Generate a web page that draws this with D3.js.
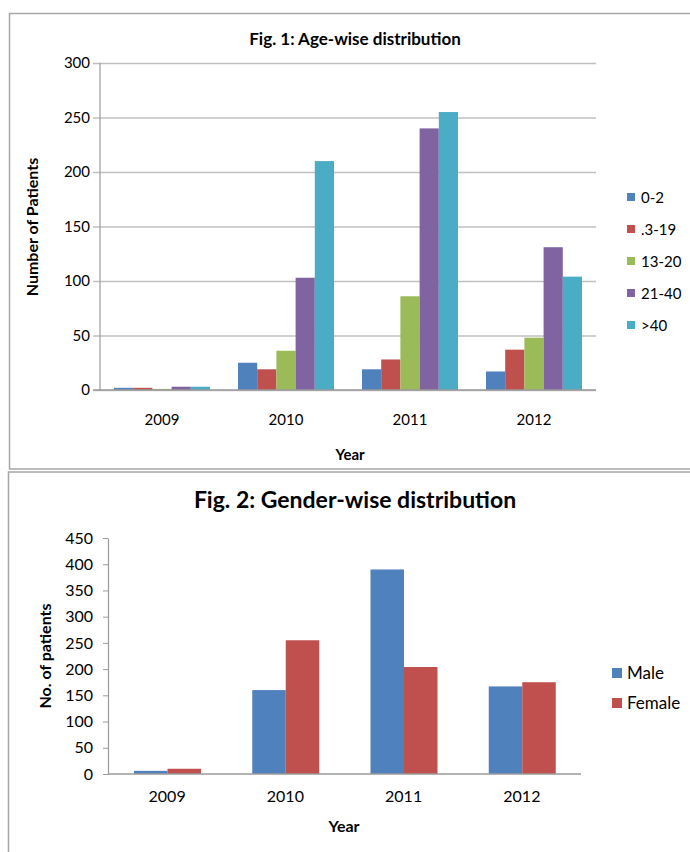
<!DOCTYPE html>
<html>
<head>
<meta charset="utf-8">
<title>Patient distribution</title>
<script src="https://cdn.jsdelivr.net/npm/d3@7"></script>
<style>
  body { margin: 0; background: #fff; }
  svg text { font-family: Lato, "Open Sans", sans-serif; fill: #000; }
</style>
</head>
<body>
<svg id="chart" width="690" height="852"></svg>
<script>
// data
var years = ["2009", "2010", "2011", "2012"];
var ageGroups = ["0-2", ".3-19", "13-20", "21-40", ">40"];
var ageCounts = {
  "0-2":   [2, 25, 19, 17],
  ".3-19": [2, 19, 28, 37],
  "13-20": [1, 36, 86, 48],
  "21-40": [3, 103, 240, 131],
  ">40":   [3, 210, 255, 104]
};
var ageTicks = [0, 50, 100, 150, 200, 250, 300];

var genders = ["Male", "Female"];
var maleCounts = [6, 160, 390, 167];
var femaleCounts = [10, 255, 204, 175];
var genderTicks = [0, 50, 100, 150, 200, 250, 300, 350, 400, 450];

var colors = ["#4F81BD", "#C0504D", "#9BBB59", "#8064A2", "#4BACC6"];

var svg = d3.select("#chart");

// frames round both charts
svg.append("rect").attr("x", 9.5).attr("y", 13.5).attr("width", 700).attr("height", 455.5)
  .attr("fill", "none").attr("stroke", "#a6a6a6").attr("stroke-width", 1.5);
svg.append("rect").attr("x", 8.5).attr("y", 472).attr("width", 700).attr("height", 400)
  .attr("fill", "none").attr("stroke", "#a6a6a6").attr("stroke-width", 1.5);

//---------------- Fig. 1 ----------------
var g1 = svg.append("g");
var x0 = d3.scaleBand().domain(years).range([100, 596]).padding(0);
var x1 = d3.scaleBand().domain(ageGroups).range([14, 110]).padding(0);
var y1 = d3.scaleLinear().domain([0, 300]).range([390, 63]);

// gridlines + tick labels
g1.append("g").attr("transform", "translate(100,0)")
  .call(d3.axisLeft(y1).tickValues(ageTicks).tickSize(-496).tickPadding(10).tickSizeOuter(0))
  .call(function(a) {
    a.select(".domain").remove();
    a.selectAll(".tick line").attr("stroke", "#c0c0c0").attr("stroke-width", 1.5).attr("x1", -7);
    a.selectAll(".tick text").attr("font-size", 15).attr("fill", "#000");
  });
g1.append("line").attr("x1", 100).attr("x2", 100).attr("y1", 63).attr("y2", 390)
  .attr("stroke", "#9a9a9a").attr("stroke-width", 1.2);

var rows1 = [];
ageGroups.forEach(function(k, i) {
  years.forEach(function(yr, j) { rows1.push({ group: k, year: yr, value: ageCounts[k][j], c: colors[i] }); });
});
g1.selectAll("rect.bar").data(rows1).enter().append("rect")
  .attr("class", "bar")
  .attr("x", function(d) { return x0(d.year) + x1(d.group); })
  .attr("width", x1.bandwidth())
  .attr("y", function(d) { return y1(d.value); })
  .attr("height", function(d) { return y1(0) - y1(d.value); })
  .attr("fill", function(d) { return d.c; });

g1.append("line").attr("x1", 93).attr("x2", 596).attr("y1", 390).attr("y2", 390)
  .attr("stroke", "#9a9a9a").attr("stroke-width", 1.5);

g1.append("g").attr("transform", "translate(0,390)")
  .call(d3.axisBottom(x0).tickSize(0).tickPadding(24))
  .call(function(a) {
    a.select(".domain").remove();
    a.selectAll(".tick text").attr("font-size", 15).attr("fill", "#000");
  });

g1.append("text").attr("x", 355).attr("y", 45).attr("text-anchor", "middle")
  .attr("font-size", 17).attr("font-weight", "bold").text("Fig. 1: Age-wise distribution");
g1.append("text").attr("x", 350).attr("y", 460).attr("text-anchor", "middle")
  .attr("font-size", 15).attr("font-weight", "bold").text("Year");
g1.append("text").attr("transform", "translate(38,227) rotate(-90)").attr("text-anchor", "middle")
  .attr("font-size", 16).attr("font-weight", "bold").text("Number of Patients");

var leg1 = g1.selectAll("g.leg").data(ageGroups).enter().append("g")
  .attr("class", "leg")
  .attr("transform", function(d, i) { return "translate(627," + (197 + i * 32) + ")"; });
leg1.append("rect").attr("x", 0).attr("y", -4).attr("width", 8).attr("height", 8)
  .attr("fill", function(d, i) { return colors[i]; });
leg1.append("text").attr("x", 14).attr("y", 5.5).attr("font-size", 15).text(function(d) { return d; });

//---------------- Fig. 2 ----------------
var g2 = svg.append("g");
var gx0 = d3.scaleBand().domain(years).range([108, 581]).padding(0);
var gx1 = d3.scaleBand().domain(genders).range([26, 93]).padding(0);
var gy = d3.scaleLinear().domain([0, 450]).range([774, 538]);

g2.append("g").attr("transform", "translate(108,0)")
  .call(d3.axisLeft(gy).tickValues(genderTicks).tickSize(5).tickPadding(10).tickSizeOuter(0))
  .call(function(a) {
    a.select(".domain").attr("stroke", "#9a9a9a").attr("stroke-width", 1.2);
    a.selectAll(".tick line").attr("stroke", "#9a9a9a");
    a.selectAll(".tick text").attr("font-size", 16).attr("fill", "#000");
  });

var rows2 = [];
years.forEach(function(yr, j) {
  rows2.push({ g: "Male", year: yr, value: maleCounts[j], c: colors[0] });
  rows2.push({ g: "Female", year: yr, value: femaleCounts[j], c: colors[1] });
});
g2.selectAll("rect.bar").data(rows2).enter().append("rect")
  .attr("class", "bar")
  .attr("x", function(d) { return gx0(d.year) + gx1(d.g); })
  .attr("width", gx1.bandwidth())
  .attr("y", function(d) { return gy(d.value); })
  .attr("height", function(d) { return gy(0) - gy(d.value); })
  .attr("fill", function(d) { return d.c; });

g2.append("line").attr("x1", 108).attr("x2", 581).attr("y1", 774).attr("y2", 774)
  .attr("stroke", "#9a9a9a").attr("stroke-width", 1.5);

g2.append("g").attr("transform", "translate(0,774)")
  .call(d3.axisBottom(gx0).tickSize(0).tickPadding(17))
  .call(function(a) {
    a.select(".domain").remove();
    a.selectAll(".tick text").attr("font-size", 16).attr("fill", "#000");
  });

g2.append("text").attr("x", 355).attr("y", 508).attr("text-anchor", "middle")
  .attr("font-size", 23).attr("font-weight", "bold").text("Fig. 2: Gender-wise distribution");
g2.append("text").attr("x", 344).attr("y", 832).attr("text-anchor", "middle")
  .attr("font-size", 16).attr("font-weight", "bold").text("Year");
g2.append("text").attr("transform", "translate(51,656) rotate(-90)").attr("text-anchor", "middle")
  .attr("font-size", 16).attr("font-weight", "bold").text("No. of patients");

var leg2 = g2.selectAll("g.leg").data(genders).enter().append("g")
  .attr("class", "leg")
  .attr("transform", function(d, i) { return "translate(612," + (673 + i * 30) + ")"; });
leg2.append("rect").attr("x", 0).attr("y", -5).attr("width", 10).attr("height", 10)
  .attr("fill", function(d, i) { return colors[i]; });
leg2.append("text").attr("x", 15).attr("y", 6).attr("font-size", 17).text(function(d) { return d; });
</script>
</body>
</html>
